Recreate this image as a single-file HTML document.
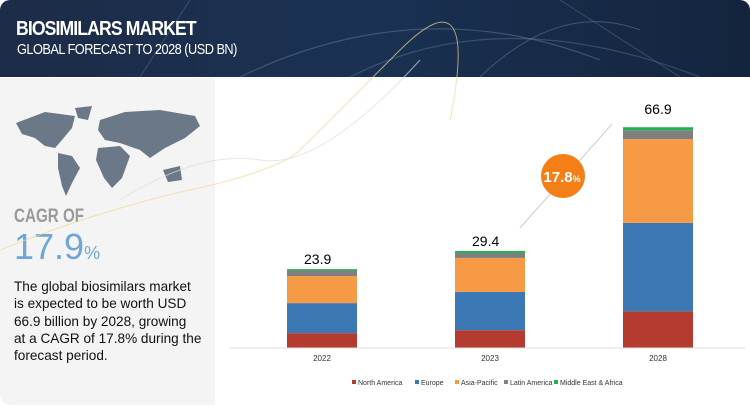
<!DOCTYPE html>
<html><head><meta charset="utf-8">
<style>
body{margin:0;width:750px;height:407px;background:#fff;font-family:"Liberation Sans",sans-serif;overflow:hidden;position:relative}
#header{position:absolute;left:0;top:0;width:750px;height:77px;background:linear-gradient(90deg,#1d2c48,#1a3152 50%,#14243d);border-radius:10px 10px 0 0;overflow:hidden}
#title{position:absolute;left:16px;top:18px;color:#fff;font-weight:bold;font-size:20px;letter-spacing:-1px;transform:scaleX(0.88);transform-origin:left}
#subtitle{position:absolute;left:17px;top:41px;color:#fff;font-size:15px;letter-spacing:-0.6px;transform:scaleX(0.85);transform-origin:left}
#left{position:absolute;left:0;top:78px;width:215px;height:327px;background:#f4f4f4;border-radius:0 0 0 10px}
#cagr-of{position:absolute;left:14px;top:128px;font-size:19px;color:#9a9a9a;font-weight:bold;transform:scaleX(0.8);transform-origin:left}
#cagr-val{position:absolute;left:14px;top:148px;font-size:36px;color:#6ea6d8;}
#cagr-val span{font-size:18px}
#desc{position:absolute;left:14px;top:200px;white-space:nowrap;font-size:13.6px;line-height:17.3px;color:#111}
</style></head><body>
<div id="header">
<svg width="750" height="77" style="position:absolute;left:0;top:0">
<path d="M240 77 Q420 -10 600 60" stroke="#5a7090" stroke-width="1.2" fill="none" opacity="0.6"/>
<path d="M350 77 Q500 0 700 77" stroke="#5a7090" stroke-width="1.2" fill="none" opacity="0.5"/>
<path d="M480 77 Q560 0 640 30" stroke="#6a80a0" stroke-width="1" fill="none" opacity="0.5"/>
<path d="M140 77 L190 0" stroke="#6a80a0" stroke-width="1" fill="none" opacity="0.4"/>
<path d="M560 0 L680 77" stroke="#6a80a0" stroke-width="1" fill="none" opacity="0.4"/>
</svg>
<div id="title">BIOSIMILARS MARKET</div>
<div id="subtitle">GLOBAL FORECAST TO 2028 (USD BN)</div>
</div>
<div id="left">
<svg width="215" height="130" style="position:absolute;left:0;top:20px">
<g fill="#6b7888">
<path d="M16 25 L45 14 L75 18 L72 30 L62 42 L55 50 L45 48 L35 40 L22 36 Z"/>
<path d="M75 10 L92 8 L88 22 L78 20 Z"/>
<path d="M58 55 L72 58 L80 70 L72 85 L66 98 L62 88 L58 70 Z"/>
<path d="M100 22 L125 14 L160 12 L195 18 L200 28 L185 40 L165 50 L150 60 L140 52 L120 45 L105 42 L98 32 Z"/>
<path d="M98 50 L120 48 L130 58 L122 80 L112 90 L104 80 L96 62 Z"/>
<path d="M163 72 L180 68 L182 82 L168 84 Z"/>
</g>
</svg>
<div id="cagr-of">CAGR OF</div>
<div id="cagr-val">17.9<span>%</span></div>
<div id="desc">The global biosimilars market<br>is expected to be worth USD<br>66.9 billion by 2028, growing<br>at a CAGR of 17.8% during the<br>forecast period.</div>
</div>
<svg id="chart" width="750" height="407" style="position:absolute;left:0;top:0;pointer-events:none">
<path d="M0 250 Q100 210 190 190 T300 150 T400 50 T450 120" stroke="#f0d890" fill="none" stroke-width="1" opacity="0.7"/>
<path d="M120 200 Q200 150 260 160 T420 60" stroke="#ddd" fill="none" stroke-width="1" opacity="0.7"/>
<line x1="520" y1="228" x2="612" y2="124" stroke="#ccc" stroke-width="1"/>
<g id="marks"></g>
<line x1="230" y1="348" x2="745" y2="348" stroke="#ddd"/>
<circle cx="563" cy="176" r="22" fill="#f47f16"/>
<text x="562" y="182" text-anchor="middle" font-size="15" font-weight="bold" fill="#fff" font-family="Liberation Sans">17.8<tspan font-size="9">%</tspan></text>
<g id="legend"></g>
</svg>
<script>
const categories=["2022","2023","2028"];
const totals=["23.9","29.4","66.9"];
const seriesNames=["North America","Europe","Asia-Pacific","Latin America","Middle East & Africa"];
const colors=["#b53a30","#3b78b4","#f79a45","#7f7f7f","#21b052"];
const northAmerica=[4.5,5.4,11.1];
const europe=[9.1,11.6,26.8];
const asiaPacific=[8.2,10.3,25.4];
const latinAmerica=[1.7,1.5,2.7];
const mea=[0.4,0.6,0.9];
const series=[northAmerica,europe,asiaPacific,latinAmerica,mea];
const NS="http://www.w3.org/2000/svg";
const y0=348, scale=3.3;
const yPos=v=>y0-v*scale;
const xCenter=i=>322+i*168;
const bw=70;
const g=document.getElementById('marks');
categories.forEach((c,i)=>{
  let cum=0;
  series.forEach((s,k)=>{
    const r=document.createElementNS(NS,'rect');
    r.setAttribute('x',xCenter(i)-bw/2);
    r.setAttribute('y',yPos(cum+s[i]));
    r.setAttribute('width',bw);
    r.setAttribute('height',s[i]*scale);
    r.setAttribute('fill',colors[k]);
    
    
    g.appendChild(r);
    cum+=s[i];
  });
  const t=document.createElementNS(NS,'text');
  t.setAttribute('x',xCenter(i)-(i==2?0:18));
  t.setAttribute('y',yPos(cum)-(i==2?13:5));
  t.setAttribute('text-anchor',i==2?'middle':'start');
  t.setAttribute('font-size','14');
  t.setAttribute('font-family','Liberation Sans');
  t.textContent=totals[i];
  
  
  g.appendChild(t);
  const xl=document.createElementNS(NS,'text');
  xl.setAttribute('x',xCenter(i));
  xl.setAttribute('y',361);
  xl.setAttribute('text-anchor','middle');
  xl.setAttribute('font-size','8');
  xl.setAttribute('fill','#333');
  xl.setAttribute('font-family','Liberation Sans');
  xl.textContent=c;
  
  
  g.appendChild(xl);
});
const lg=document.getElementById('legend');
const lx=[352,415,455,504,554];
seriesNames.forEach((n,k)=>{
  const r=document.createElementNS(NS,'rect');
  r.setAttribute('x',lx[k]);r.setAttribute('y',380);r.setAttribute('width',4);r.setAttribute('height',4);
  r.setAttribute('fill',colors[k]);
  
  
  lg.appendChild(r);
  const t=document.createElementNS(NS,'text');
  t.setAttribute('x',lx[k]+6);t.setAttribute('y',385);
  t.setAttribute('font-size','7');t.setAttribute('fill','#333');t.setAttribute('font-family','Liberation Sans');
  t.textContent=n;
  
  
  lg.appendChild(t);
});
</script>
</body></html>
